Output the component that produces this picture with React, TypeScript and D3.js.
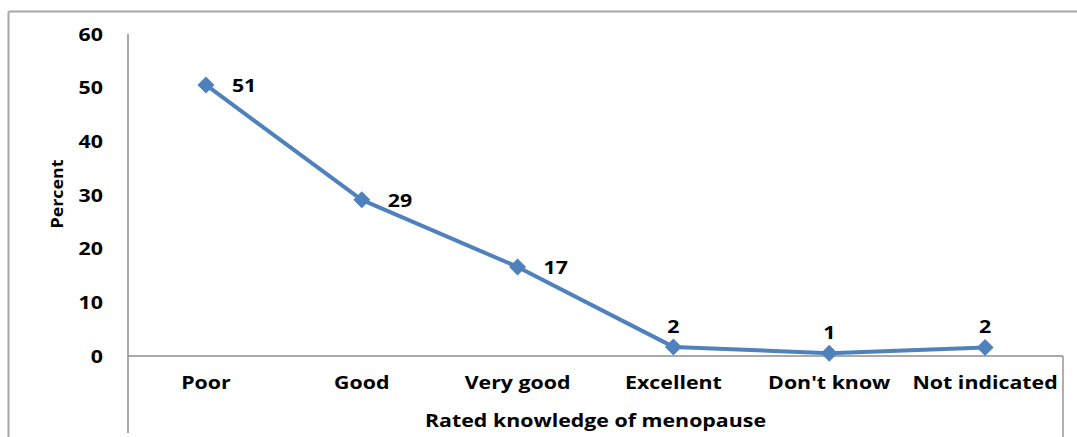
import React from "react";
import * as d3 from "d3";

const categories = ["Poor", "Good", "Very good", "Excellent", "Don't know", "Not indicated"];
const percentValues = [50.5, 29.1, 16.6, 1.7, 0.5, 1.6];
const valueLabels = ["51", "29", "17", "2", "1", "2"];
const yTicks = [0, 10, 20, 30, 40, 50, 60];
const xTitle = "Rated knowledge of menopause";
const yTitle = "Percent";

const W = 1077;
const H = 437;
const plot = { left: 128, right: 1063, top: 34, bottom: 356 };
const FONT = "'Open Sans', 'DejaVu Sans', sans-serif";
const BLUE = "#4F81BD";
const SX = 1.22;
const FS = 17.5;

function T({
  x,
  y,
  anchor = "start",
  children,
}: {
  x: number;
  y: number;
  anchor?: "start" | "middle" | "end";
  children: React.ReactNode;
}) {
  return (
    <text
      transform={`translate(${x},${y}) scale(${SX},1)`}
      textAnchor={anchor}
      dominantBaseline="central"
      fontSize={FS}
      fill="#000"
    >
      {children}
    </text>
  );
}

export default function App() {
  const x = d3.scaleBand<string>().domain(categories).range([plot.left, plot.right]);
  const y = d3.scaleLinear().domain([0, 60]).range([plot.bottom, plot.top]);
  const cx = (c: string) => (x(c) ?? 0) + x.bandwidth() / 2;

  const pts = categories.map((c, i) => ({ c, v: percentValues[i], label: valueLabels[i] }));
  const line = d3
    .line<{ c: string; v: number }>()
    .x((d) => cx(d.c))
    .y((d) => y(d.v));
  const r = 8.5;
  const diamond = `M0,${-r}L${r},0L0,${r}L${-r},0Z`;

  return (
    <svg
      width={W}
      height={H}
      style={{ position: "absolute", left: 0, top: 0, background: "#fff" }}
      fontFamily={FONT}
      fontWeight={700}
    >
      {/* outer frame */}
      <line x1={8.5} y1={11.5} x2={W} y2={11.5} stroke="#A6A6A6" strokeWidth={2} />
      <line x1={8.5} y1={11.5} x2={8.5} y2={H} stroke="#A6A6A6" strokeWidth={2} />
      <line x1={plot.right} y1={plot.bottom} x2={plot.right} y2={H} stroke="#969696" strokeWidth={1.5} />

      {/* axes */}
      <line x1={plot.left} y1={plot.top} x2={plot.left} y2={433} stroke="#8C8C8C" strokeWidth={1.5} />
      <line x1={plot.left} y1={plot.bottom} x2={plot.right} y2={plot.bottom} stroke="#8C8C8C" strokeWidth={1.5} />

      {/* y tick labels */}
      {yTicks.map((t) => (
        <T key={t} x={103} y={y(t)} anchor="end">
          {t}
        </T>
      ))}

      {/* x category labels */}
      {categories.map((c) => (
        <T key={c} x={cx(c)} y={382} anchor="middle">
          {c}
        </T>
      ))}

      {/* axis titles */}
      <T x={(plot.left + plot.right) / 2} y={420} anchor="middle">
        {xTitle}
      </T>
      <g transform="translate(57,194) rotate(-90)">
        <text
          transform={`scale(1.15,1)`}
          textAnchor="middle"
          dominantBaseline="central"
          fontSize={15.5}
          fill="#000"
        >
          {yTitle}
        </text>
      </g>

      {/* series */}
      <path d={line(pts) ?? ""} fill="none" stroke={BLUE} strokeWidth={4} strokeLinejoin="round" />
      {pts.map((p) => (
        <path key={p.c} d={diamond} transform={`translate(${cx(p.c)},${y(p.v)})`} fill={BLUE} />
      ))}

      {/* data labels */}
      {pts.map((p) =>
        p.v >= 5 ? (
          <T key={p.c} x={cx(p.c) + 26} y={y(p.v)}>
            {p.label}
          </T>
        ) : (
          <T key={p.c} x={cx(p.c)} y={y(p.v) - 21} anchor="middle">
            {p.label}
          </T>
        )
      )}
    </svg>
  );
}
